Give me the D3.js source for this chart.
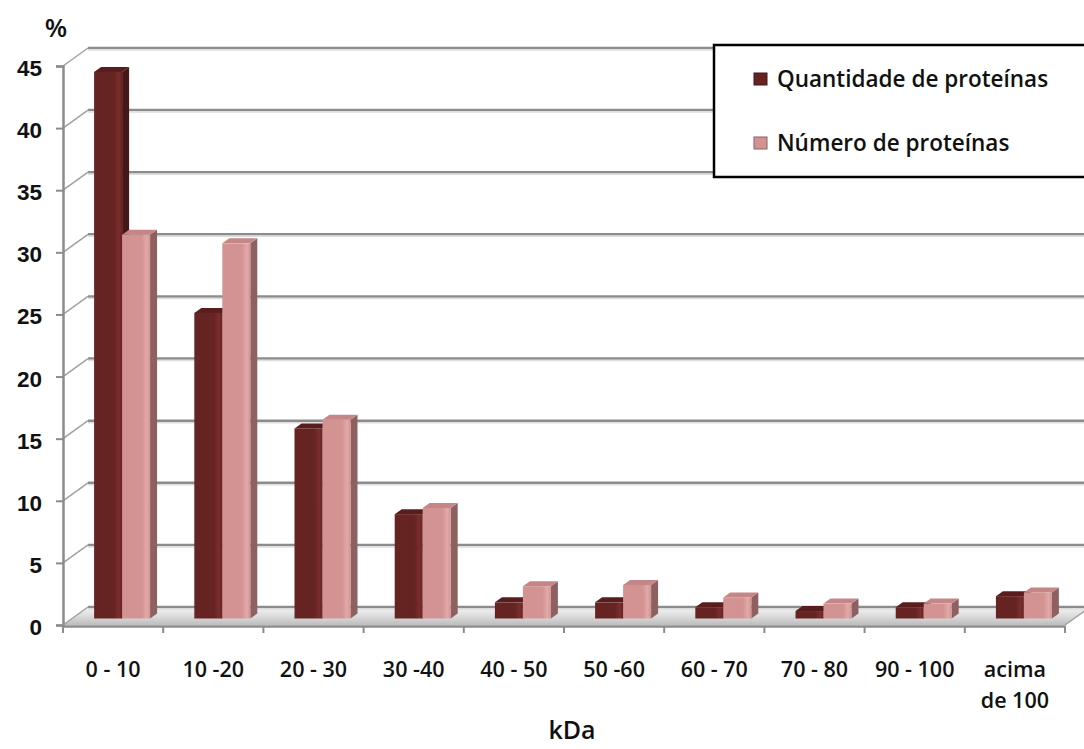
<!DOCTYPE html>
<html><head><meta charset="utf-8">
<script src="https://cdn.jsdelivr.net/npm/d3@7"></script>
<style>
html,body{margin:0;padding:0;background:#fff;}
svg{display:block;font-family:"Open Sans",Lato,sans-serif;}
</style></head>
<body><svg id="c" width="1084" height="749"></svg>
<script>
const categories = ["0 - 10","10 -20","20 - 30","30 -40","40 - 50","50 -60","60 - 70","70 - 80","90 - 100","acima\nde 100"];
const seriesNames = ["Quantidade de proteínas","Número de proteínas"];
const quantidade = [44.0, 24.6, 15.3, 8.4, 1.3, 1.3, 0.9, 0.6, 0.9, 1.8];
const numero     = [30.9, 30.2, 16.0, 8.9, 2.6, 2.7, 1.7, 1.2, 1.2, 2.1];
const yTicks = [0,5,10,15,20,25,30,35,40,45];
const xTitle = "kDa";
const yTitle = "%";

const series = [quantidade, numero];
const palette = [
  {front:"#652322", light:"#7a2e2d", side:"#451717", top:"#5a1d1d"},
  {front:"#d39393", light:"#e2a9a9", side:"#8e6060", top:"#c48686"}
];

const svg = d3.select("#c");
const defs = svg.append("defs");

const left = 63, right = 1065, base = 625, topY = 66;
const depthX = 25, depthY = -18;
const barOffX = 9, barOffY = -6.5;
const barDX = 7, barDY = -5;

const x0 = d3.scaleBand().domain(categories).range([left, right]).padding(0);
const x1 = d3.scaleBand().domain([0,1]).range([0, x0.bandwidth()]).paddingInner(0).paddingOuter(0.79);
const y = d3.scaleLinear().domain([0,45]).range([base, topY]);

palette.forEach((p,i)=>{
  const g = defs.append("linearGradient").attr("id","fg"+i).attr("x1","0").attr("x2","1").attr("y1","0").attr("y2","0");
  g.append("stop").attr("offset","0").attr("stop-color",p.front);
  g.append("stop").attr("offset","0.7").attr("stop-color",p.front);
  g.append("stop").attr("offset","0.88").attr("stop-color",p.light);
  g.append("stop").attr("offset","1").attr("stop-color",p.front);
});
const fl = defs.append("linearGradient").attr("id","floor").attr("x1","0").attr("x2","0").attr("y1","0").attr("y2","1");
fl.append("stop").attr("offset","0").attr("stop-color","#f4f4f4");
fl.append("stop").attr("offset","0.5").attr("stop-color","#dcdcdc");
fl.append("stop").attr("offset","1").attr("stop-color","#bdbdbd");

const gridColor = "#8c8c8c";
const fontW = 600;

svg.append("path")
  .attr("d", `M${left},${base} L${right},${base} L${right+depthX},${base+depthY} L${left+depthX},${base+depthY} Z`)
  .attr("fill","url(#floor)");

svg.append("g").selectAll("line").data(yTicks).join("line")
  .attr("x1", left+depthX).attr("x2", 1090)
  .attr("y1", d=>y(d)+depthY).attr("y2", d=>y(d)+depthY)
  .attr("stroke", gridColor).attr("stroke-width", 2.5);
svg.append("g").selectAll("line").data(yTicks).join("line")
  .attr("x1", left+depthX).attr("x2", 1090)
  .attr("y1", d=>y(d)+depthY+2).attr("y2", d=>y(d)+depthY+2)
  .attr("stroke", "#dedede").attr("stroke-width", 1.5);

svg.append("g").selectAll("line").data(yTicks).join("line")
  .attr("x1", left).attr("y1", d=>y(d))
  .attr("x2", left+depthX).attr("y2", d=>y(d)+depthY)
  .attr("stroke", "#a0a0a0").attr("stroke-width", 1.5);

svg.append("line").attr("x1", right).attr("y1", base).attr("x2", right+depthX).attr("y2", base+depthY)
  .attr("stroke","#a0a0a0").attr("stroke-width",1.5);

const yAxis = d3.axisLeft(y).tickValues(yTicks).tickSize(7).tickPadding(14);
const ya = svg.append("g").attr("transform",`translate(${left},0)`).call(yAxis);
ya.select(".domain").attr("stroke","#8c8c8c").attr("stroke-width",2.5);
ya.selectAll(".tick line").attr("stroke","#8c8c8c").attr("stroke-width",2);
ya.selectAll(".tick text").attr("font-size",22.5).attr("font-weight",fontW).attr("fill","#111").attr("dy","0.42em");

const xa = svg.append("g").attr("transform",`translate(0,${base+1})`)
  .call(d3.axisBottom(x0).tickSize(0).tickFormat(""));
xa.select(".domain").attr("stroke","#8c8c8c").attr("stroke-width",2.5);
xa.selectAll(".tick").remove();
const bounds = categories.map((c,i)=>i).concat([categories.length]);
xa.selectAll("line.tk").data(bounds).join("line").attr("class","tk")
  .attr("x1", i=>left + i*x0.step()).attr("x2", i=>left + i*x0.step())
  .attr("y1",0).attr("y2",7).attr("stroke","#8c8c8c").attr("stroke-width",2);

const lbl = svg.append("g").selectAll("text").data(categories).join("text")
  .attr("x", d=>x0(d)+x0.bandwidth()/2)
  .attr("y", 677)
  .attr("text-anchor","middle").attr("font-size",21.5).attr("font-weight",fontW).attr("fill","#111");
lbl.each(function(d){
  const parts = d.split("\n");
  d3.select(this).selectAll("tspan").data(parts).join("tspan")
    .attr("x", x0(d)+x0.bandwidth()/2).attr("dy",(p,i)=>i===0?0:"1.45em").text(p=>p);
});

const bars = svg.append("g");
categories.forEach((c,ci)=>{
  series.forEach((vals,si)=>{
    const p = palette[si];
    const xl = x0(c) + x1(si) + barOffX;
    const w = x1.bandwidth();
    const xr = xl + w;
    const yt = y(vals[ci]) + barOffY;
    const yb = y(0) + barOffY;
    const g = bars.append("g");
    g.append("path").attr("d",`M${xr},${yt} L${xr+barDX},${yt+barDY} L${xr+barDX},${yb+barDY} L${xr},${yb} Z`).attr("fill",p.side);
    g.append("path").attr("d",`M${xl},${yt} L${xl+barDX},${yt+barDY} L${xr+barDX},${yt+barDY} L${xr},${yt} Z`).attr("fill",p.top);
    g.append("rect").attr("x",xl).attr("y",yt).attr("width",w).attr("height",Math.max(0,yb-yt)).attr("fill",`url(#fg${si})`);
  });
});

svg.append("text").attr("x",56).attr("y",37).attr("text-anchor","middle")
  .attr("font-size",26).attr("font-weight",fontW).attr("fill","#111").text(yTitle);
svg.append("text").attr("x",572).attr("y",739).attr("text-anchor","middle")
  .attr("font-size",25).attr("font-weight",fontW).attr("fill","#111").text(xTitle);

const lg = svg.append("g");
lg.append("rect").attr("x",714).attr("y",45).attr("width",380).attr("height",132)
  .attr("fill","#fff").attr("stroke","#000").attr("stroke-width",2.5);
const legY = [79, 143];
seriesNames.forEach((n,i)=>{
  lg.append("rect").attr("x",754).attr("y",legY[i]-6).attr("width",13).attr("height",12)
    .attr("fill",palette[i].front).attr("stroke",palette[i].side).attr("stroke-width",1);
  lg.append("text").attr("x",777).attr("y",legY[i]+7.5).attr("font-size",22.5).attr("font-weight",fontW)
    .attr("fill","#111").text(n);
});
</script></body></html>
